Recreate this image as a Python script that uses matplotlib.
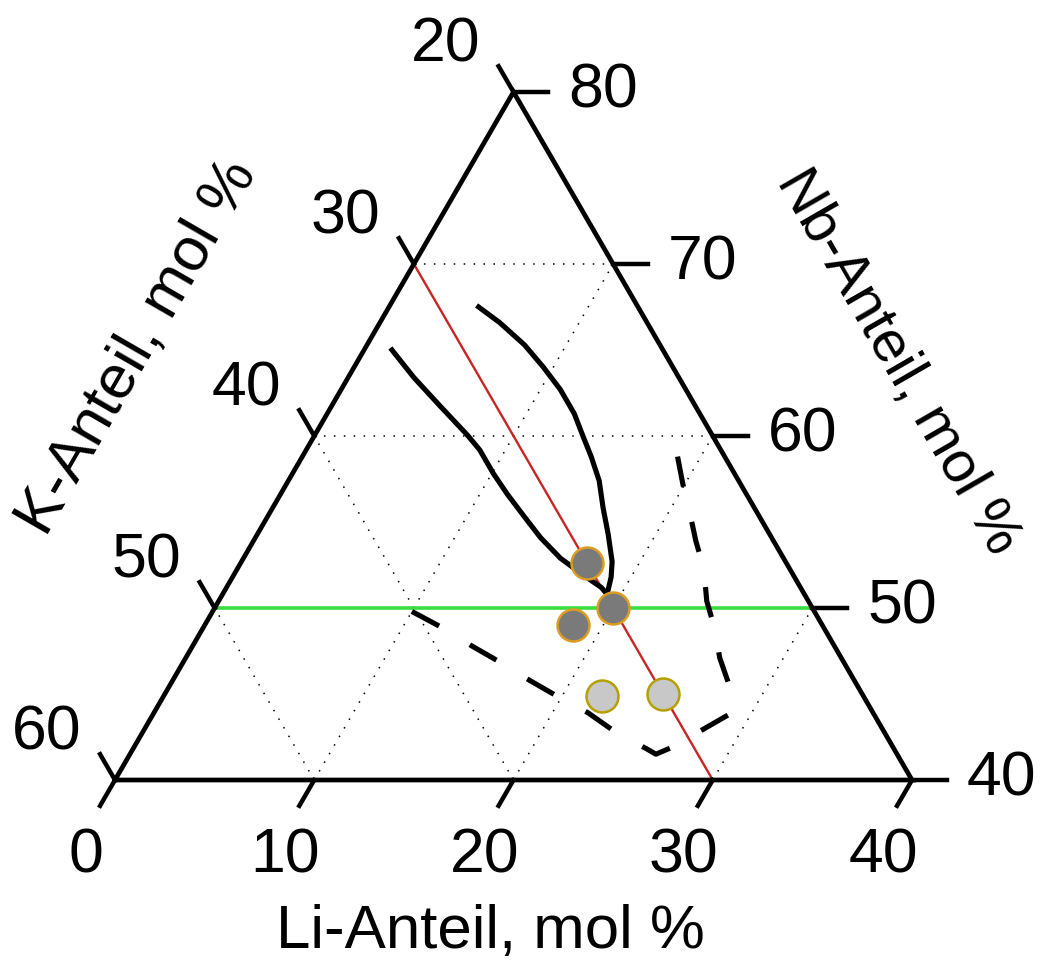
import numpy as np
import matplotlib.pyplot as plt

plt.rcParams['font.family'] = ['Liberation Sans', 'DejaVu Sans']

# ternary section: Li 0-40, K 20-60, Nb 40-80 (mol %), K = 100 - Li - Nb
li_ticks = [0, 10, 20, 30, 40]
k_ticks = [20, 30, 40, 50, 60]
nb_ticks = [40, 50, 60, 70, 80]

grid_li = [10, 20, 30]
grid_k = [40, 50]
grid_nb = [60, 70]
red_k = 30
green_nb = 50

# solid boundary curves (Li, Nb)
curve_a_li = [1.4, 3.3, 5.5, 7.6, 8.7, 10.1, 11.4, 12.9, 14.3, 15.9, 17.4, 18.8, 19.3]
curve_a_nb = [65.0, 63.4, 61.7, 60.1, 59.2, 57.8, 56.6, 55.3, 54.1, 52.9, 52.0, 51.2, 50.8]
curve_b_li = [4.5, 6.0, 7.9, 9.5, 11.0, 12.4, 13.4, 14.5, 15.6, 16.6, 17.6, 18.6, 19.0, 19.3]
curve_b_nb = [67.5, 66.6, 65.3, 64.0, 62.7, 61.3, 60.1, 58.8, 57.4, 55.8, 54.3, 52.7, 51.8, 50.8]

# dashed boundary
dash_li = [10.0, 11.9, 14.0, 15.8, 17.9, 19.7, 21.8, 23.7, 25.8, 26.4, 27.0, 28.1, 29.0,
           28.0, 26.8, 25.7, 24.5, 23.4, 22.2, 20.9, 19.9, 18.1]
dash_nb = [49.8, 48.9, 47.8, 46.9, 45.8, 44.9, 43.9, 42.8, 41.8, 41.5, 41.9, 43.0, 43.9,
           45.6, 47.1, 48.8, 50.4, 52.3, 53.9, 55.8, 57.2, 59.9]

# samples
dark_li = [17.4, 20.0, 18.5]
dark_nb = [52.6, 50.0, 49.0]
light_li = [22.0, 25.0]
light_nb = [44.9, 45.0]


def tern(li, nb):
    li = np.asarray(li, float)
    nb = np.asarray(nb, float)
    return li + (nb - 40) / 2, (nb - 40) * np.sqrt(3) / 2


fig = plt.figure(figsize=(10.42, 9.62), dpi=100)
ax = fig.add_axes([0, 0, 1, 1])
ax.axis('off')
sx = 797 / 40
sy = 688 / (20 * np.sqrt(3))
ax.set_xlim(-115 / sx, (1042 - 115) / sx)
ax.set_ylim(-(962 - 781) / sy, 781 / sy)

dot = dict(color='black', lw=1.1, dashes=(1, 5.5), zorder=1)
for li in grid_li:
    ax.plot(*tern([li, li], [40, 80 - li]), **dot)
for k in grid_k:
    ax.plot(*tern([60 - k, 0], [40, 100 - k]), **dot)
for nb in grid_nb:
    ax.plot(*tern([0, 80 - nb], [nb, nb]), **dot)

ax.plot(*tern([60 - red_k, 0], [40, 100 - red_k]), color='#c82424', lw=1.7, zorder=2)
ax.plot(*tern([0, 80 - green_nb], [green_nb, green_nb]), color='#3ddc3d', lw=2.6, zorder=2)

# triangle
ax.plot(*tern([0, 40, 0, 0], [40, 40, 80, 40]), color='black', lw=3.4,
        solid_joinstyle='miter', zorder=3)

# ticks and labels
tl = 1.5
fs = 45
for v in li_ticks:
    x, y = tern(v, 40)
    ax.plot([x, x - 0.5 * tl], [y, y - 0.866 * tl], color='black', lw=3.2, zorder=3)
    ax.annotate(str(v), (x, y), xytext=(-29, -75), textcoords='offset pixels',
                ha='center', va='center', fontsize=fs)
for v in k_ticks:
    x, y = tern(0, 100 - v)
    ax.plot([x, x - 0.5 * tl], [y, y + 0.866 * tl], color='black', lw=3.2, zorder=3)
    ax.annotate(str(v), (x, y), xytext=(-68, 48), textcoords='offset pixels',
                ha='center', va='center', fontsize=fs)
for v in nb_ticks:
    x, y = tern(80 - v, v)
    ax.plot([x, x + 1.75], [y, y], color='black', lw=3.2, zorder=3)
    ax.annotate(str(v), (x, y), xytext=(55, 2), textcoords='offset pixels',
                ha='left', va='center', fontsize=fs)

# curves
ax.plot(*tern(curve_a_li, curve_a_nb), color='black', lw=3.7, zorder=4)
ax.plot(*tern(curve_b_li, curve_b_nb), color='black', lw=3.7, zorder=4)
ax.plot(*tern(dash_li, dash_nb), color='black', lw=3.7, dashes=(6, 7), zorder=4)

# points
ax.plot(*tern(dark_li, dark_nb), 'o', ms=23, mfc='#7a7a7a', mec='#dc9c22', mew=1.8,
        ls='none', zorder=5)
ax.plot(*tern(light_li, light_nb), 'o', ms=23, mfc='#c8c8c8', mec='#b5a000', mew=1.8,
        ls='none', zorder=5)

# axis titles
tfs = 44.5
fig.text(490 / 1042, 1 - 932 / 962, 'Li-Anteil, mol %', ha='center', va='center', fontsize=tfs)
fig.text(138 / 1042, 1 - 347 / 962, 'K-Anteil, mol %', ha='center', va='center',
         rotation=60, rotation_mode='anchor', fontsize=tfs)
fig.text(898 / 1042, 1 - 362 / 962, 'Nb-Anteil, mol %', ha='center', va='center',
         rotation=-60, rotation_mode='anchor', fontsize=42)

fig.savefig('out.png', dpi=100)
